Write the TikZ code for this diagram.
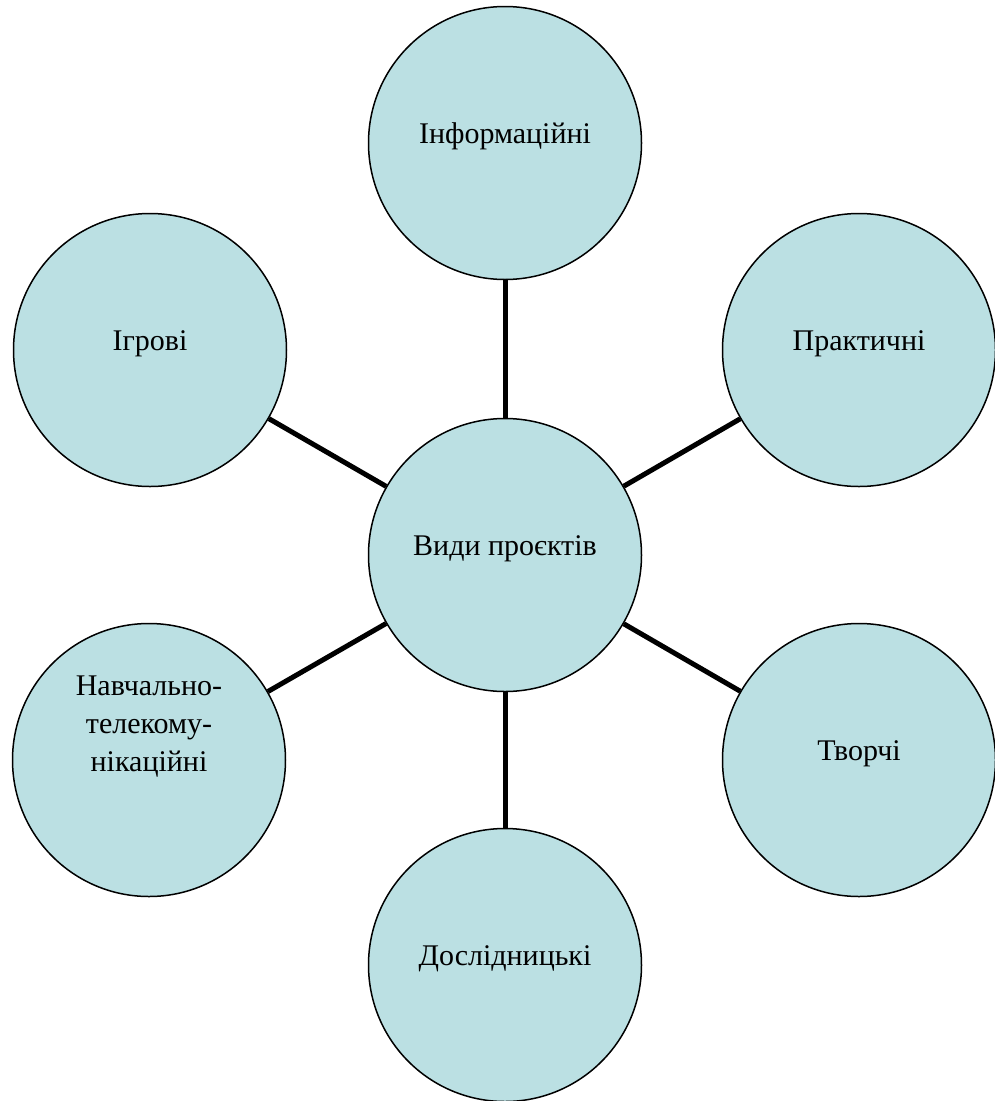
\documentclass[tikz,border=0pt]{standalone}
\usepackage{fontspec}
\setmainfont{Liberation Serif}
\newfontfamily\bubblefont{Liberation Serif}
\definecolor{bubblefill}{RGB}{187,224,227}
\tikzset{
  bubble/.style={shape=circle,draw=black,fill=bubblefill,line width=1.5pt,
    minimum size=273pt,inner sep=0pt,font=\bubblefont\fontsize{30}{38}\selectfont,
    text height=10pt,text depth=10pt},
  spoke/.style={line width=5pt}
}
\begin{document}
\begin{tikzpicture}[x=1pt,y=-1pt]
            \useasboundingbox (0,0) rectangle (995,1101);
            \node[bubble] (hub) at (505,555) {Види проєктів};
            \node[bubble] (info) at (505,143) {Інформаційні};
            \node[bubble] (practice) at (859,350) {Практичні};
            \node[bubble] (creative) at (859,760) {Творчі};
            \node[bubble] (research) at (505,965) {Дослідницькі};
            \node[bubble,align=center,text height=22pt,text depth=0pt] (study) at (149,760) {Навчально-\\телекому-\\нікаційні};
            \node[bubble] (game) at (150,350) {Ігрові};

            \draw[spoke] (hub) -- (info);
            \draw[spoke] (hub) -- (practice);
            \draw[spoke] (hub) -- (creative);
            \draw[spoke] (hub) -- (research);
            \draw[spoke] (hub) -- (study);
            \draw[spoke] (hub) -- (game);
        \end{tikzpicture}
\end{document}
